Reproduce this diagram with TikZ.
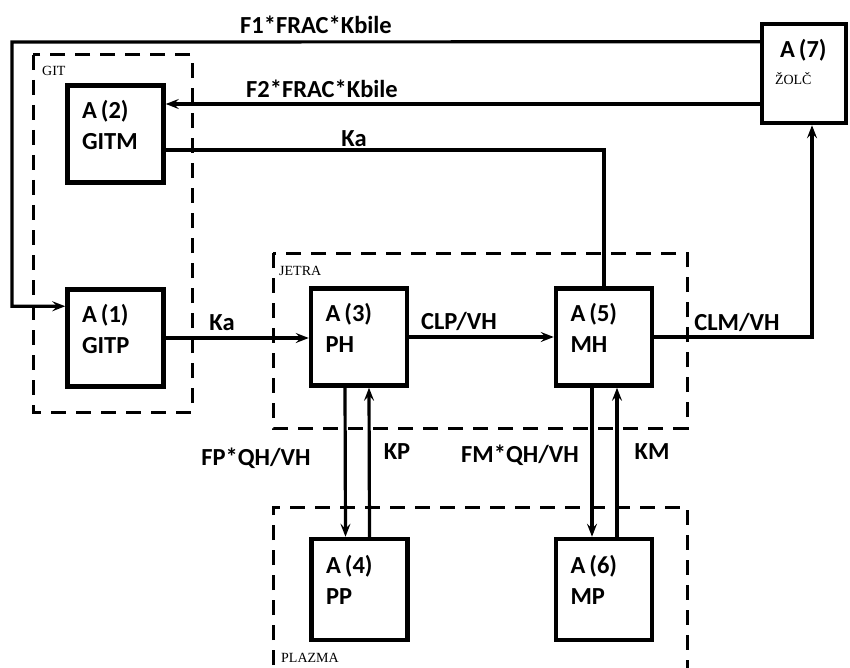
\documentclass[tikz,border=0pt]{standalone}
\usepackage{fontspec}
\setmainfont{Carlito}
\newfontfamily\tagfont{Liberation Serif}
\usetikzlibrary{arrows.meta,calc}

\begin{document}
\begin{tikzpicture}[x=1pt, y=-1pt,
    box/.style={draw, line width=4.5pt, minimum width=96pt, minimum height=97pt, text width=67pt, align=left, text depth=50pt, inner sep=0pt, font=\bfseries\fontsize{24.5}{31}\selectfont},
    grp/.style={line width=3pt, dash pattern=on 15pt off 10pt},
    lnk/.style={line width=3.2pt},
    arr/.style={lnk, -{Stealth[length=13pt, width=10pt, inset=5pt]}},
    lbl/.style={font=\bfseries\fontsize{24.5}{26}\selectfont, inner sep=0pt},
    tag/.style={font=\tagfont\fontsize{14}{16}\selectfont, inner sep=0pt, anchor=west}
]
\useasboundingbox (0,0) rectangle (850,668);

% compartments
\draw[grp] (33,55) rectangle (192,412);
\draw[grp] (273,253) rectangle (687,428);
\draw[grp] (273,690) -- (273,507) -- (687,507) -- (687,690);
\node[tag] (tgit) at (42,71) {GIT};
\node[tag] (tjetra) at (279,271) {JETRA};
\node[tag] (tplazma) at (281,658) {PLAZMA};

% boxes
\node[box] (a2) at (115.5,134) {A\,(2)\\GITM};
\node[box] (a1) at (115.5,338) {A\,(1)\\GITP};
\node[box] (a3) at (359,337) {A\,(3)\\PH};
\node[box] (a5) at (604,337) {A\,(5)\\MH};
\node[box, minimum height=101pt] (a4) at (359.5,589.5) {A\,(4)\\PP};
\node[box, minimum height=101pt] (a6) at (604,589.5) {A\,(6)\\MP};
\node[box, minimum width=84pt, minimum height=99pt, text width=58pt] (a7) at (804,73.5)
    {\hspace*{5pt}A\,(7)\\[-4pt]{\tagfont\mdseries\fontsize{14}{16}\selectfont ŽOLČ}};

% connectors
\coordinate (lp) at (12,42);
\coordinate (f2) at (700,104);
\draw[arr] ([yshift=-20pt]a7.north west) -- (lp) |- ([yshift=-19pt]a1.north west);
\draw[arr] (a7.west |- f2) -- (a2.east |- f2);
\draw[lnk] ([yshift=-16pt]a2.east) -| (a5.north);
\draw[arr] (a1.east) -- (a1.east -| a3.west);
\draw[arr] (a3.east) -- (a5.west);
\draw[arr] (a5.east) -| ([xshift=8pt]a7.south);
\draw[arr] ([xshift=-14pt]a3.south) -- ([xshift=-14pt]a4.north);
\draw[arr] ([xshift=10pt]a4.north) -- ([xshift=10pt]a3.south);
\draw[arr] ([xshift=-12pt]a5.south) -- ([xshift=-12pt]a6.north);
\draw[arr] ([xshift=13pt]a6.north) -- ([xshift=13pt]a5.south);

% labels
\node[lbl] (lf1) at (316,25) {F1*FRAC*Kbile};
\node[lbl] (lf2) at (322,89) {F2*FRAC*Kbile};
\node[lbl] (lka1) at (354,139) {Ka};
\node[lbl] (lka2) at (222,323) {Ka};
\node[lbl] (lclp) at (459,321) {CLP/VH};
\node[lbl] (lclm) at (737,322) {CLM/VH};
\node[lbl] (lfp) at (256,458) {FP*QH/VH};
\node[lbl] (lkp) at (397,452) {KP};
\node[lbl] (lfm) at (520,455) {FM*QH/VH};
\node[lbl] (lkm) at (652,452) {KM};
\end{tikzpicture}
\end{document}
